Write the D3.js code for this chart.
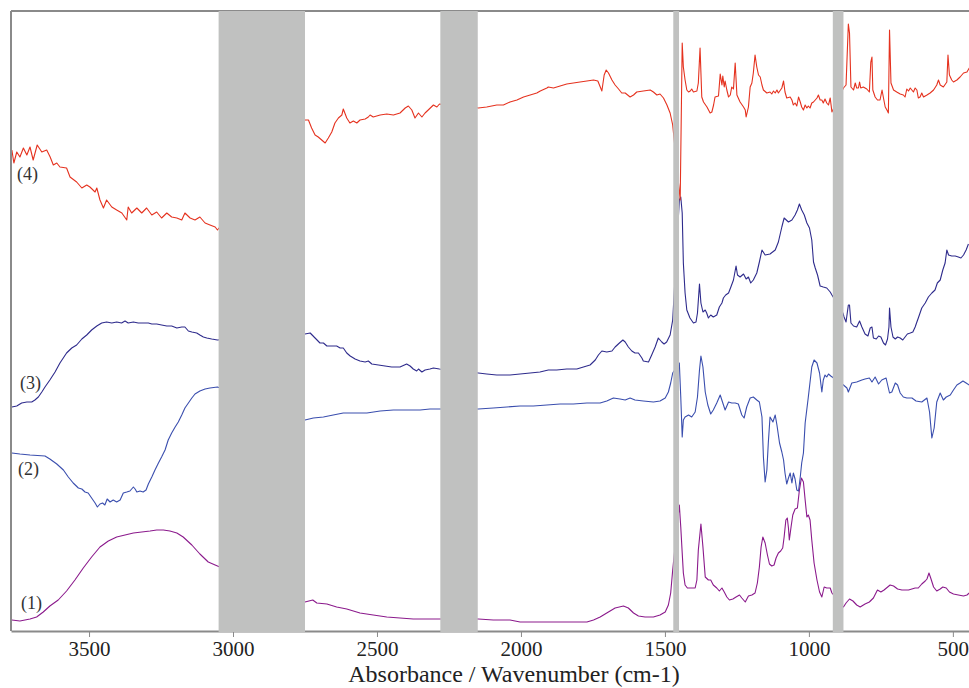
<!DOCTYPE html>
<html>
<head>
<meta charset="utf-8">
<script src="https://cdn.jsdelivr.net/npm/d3@7"></script>
<style>
  body { margin: 0; background: #fff; }
  svg { display: block; }
  svg text { font-family: "Liberation Serif", "Times New Roman", Times, "DejaVu Serif", serif; }
</style>
</head>
<body>
<div id="chart"></div>
<script>
// [wavenumber (cm-1), absorbance offset (a.u.)]
const spectrum1 = [
  [3768,11],[3740,10],[3705,12],[3682,14],[3659,19],[3636,25],[3607,31],[3578,40],[3549,51],[3520,63],
  [3491,74],[3462,84],[3433,90],[3404,94],[3375,96],[3346,98],[3317,99],[3288,100],[3265,101],[3242,101],
  [3219,100],[3195,98],[3173,94],[3143,86],[3115,77],[3086,69],[3054,65],
  [2750,29],[2723,31],[2709,28],[2674,27],[2640,24],[2605,22],[2559,18],[2513,16],[2466,14],[2420,13],
  [2374,12],[2327,12],[2283,12],
  [2148,12],[2096,11],[2038,11],[2003,9],[1934,9],[1876,9],[1806,9],[1771,9],[1748,11],[1725,14],
  [1702,18],[1673,23],[1644,25],[1627,23],[1609,18],[1592,15],[1569,14],[1540,14],[1517,16],[1499,19],
  [1488,26],[1480,38],[1473,61],
  [1450,126],[1445,104],[1440,78],[1436,58],[1430,46],[1422,43],[1407,43],[1395,43],[1389,51],[1384,81],
  [1375,107],[1368,84],[1360,54],[1349,51],[1341,51],[1332,46],[1320,43],[1311,40],[1302,43],[1294,39],
  [1285,34],[1276,31],[1264,32],[1253,34],[1241,36],[1233,33],[1221,29],[1210,35],[1198,36],[1187,38],
  [1179,48],[1172,64],[1166,84],[1160,94],[1152,88],[1144,76],[1137,67],[1129,65],[1121,66],[1114,73],
  [1106,78],[1098,80],[1091,83],[1086,94],[1080,111],[1075,113],[1071,103],[1068,91],[1062,104],[1056,116],
  [1048,122],[1040,123],[1033,141],[1026,153],[1019,149],[1013,131],[1007,114],[1002,116],[996,111],[990,91],
  [982,68],[972,51],[963,39],[955,34],[947,44],[938,43],[926,43],[920,38],
  [880,24],[871,28],[859,32],[847,30],[834,26],[822,24],[805,27],[790,29],[776,33],[762,41],
  [750,39],[739,41],[718,46],[706,45],[692,42],[677,41],[654,41],[631,43],[620,43],[608,47],
  [596,50],[590,52],[583,58],[577,53],[567,44],[556,40],[544,42],[535,44],[523,43],[512,39],
  [498,37],[481,36],[463,35],[451,36],[443,38]
];

const spectrum2 = [
  [3768,178],[3740,177],[3705,176],[3653,175],[3636,172],[3612,167],[3589,161],[3572,154],[3555,148],[3537,143],
  [3525,142],[3514,139],[3503,138],[3491,133],[3479,128],[3471,124],[3462,127],[3453,128],[3445,126],[3437,132],
  [3427,129],[3416,131],[3404,129],[3392,131],[3381,138],[3369,139],[3358,140],[3346,144],[3340,142],[3334,139],
  [3323,140],[3312,139],[3302,141],[3294,147],[3282,154],[3271,161],[3259,168],[3248,174],[3236,181],[3225,191],
  [3213,198],[3201,204],[3190,209],[3178,216],[3167,223],[3155,228],[3143,233],[3132,237],[3115,240],[3097,242],
  [3080,243],[3054,244],
  [2750,211],[2721,213],[2686,214],[2652,216],[2617,218],[2582,218],[2535,218],[2489,220],[2443,221],[2397,221],
  [2350,221],[2316,222],[2283,222],
  [2148,222],[2096,223],[2049,224],[2003,225],[1957,225],[1910,226],[1864,227],[1818,227],[1771,228],[1725,228],
  [1702,230],[1679,233],[1656,232],[1638,231],[1621,233],[1604,231],[1575,230],[1540,229],[1517,230],[1499,233],
  [1488,239],[1480,248],[1473,258],
  [1450,268],[1445,234],[1440,194],[1436,211],[1430,214],[1418,216],[1407,214],[1395,219],[1387,234],[1380,261],
  [1375,275],[1368,264],[1360,239],[1351,226],[1341,217],[1332,221],[1320,228],[1308,236],[1299,228],[1291,221],
  [1279,229],[1268,228],[1256,228],[1245,227],[1233,216],[1225,213],[1216,224],[1204,233],[1193,234],[1181,231],
  [1172,229],[1163,214],[1158,174],[1152,149],[1146,161],[1141,188],[1135,214],[1125,209],[1117,216],[1111,206],
  [1102,188],[1094,179],[1088,171],[1083,158],[1077,147],[1071,153],[1065,158],[1059,148],[1054,158],[1048,152],
  [1042,141],[1036,140],[1030,154],[1025,168],[1019,178],[1013,208],[1002,234],[990,264],[982,271],[972,268],
  [963,258],[955,239],[950,251],[944,256],[938,254],[932,257],[924,255],
  [880,246],[868,243],[863,239],[851,248],[834,249],[816,251],[805,252],[790,253],[781,249],[770,254],
  [758,247],[747,251],[732,253],[720,238],[712,239],[700,248],[692,246],[683,238],[672,234],[660,233],
  [642,233],[628,230],[608,229],[590,233],[581,219],[573,193],[565,203],[556,229],[544,238],[533,231],
  [523,234],[509,236],[498,241],[486,246],[475,248],[465,250],[454,248],[443,246]
];

const spectrum3 = [
  [3768,224],[3751,225],[3734,228],[3716,229],[3699,229],[3688,231],[3676,234],[3664,239],[3653,244],[3636,251],
  [3618,259],[3601,268],[3578,278],[3560,283],[3543,286],[3525,292],[3508,296],[3491,301],[3473,305],[3456,308],
  [3439,309],[3421,308],[3404,309],[3387,308],[3375,310],[3364,308],[3346,309],[3329,308],[3311,308],[3294,308],
  [3282,307],[3265,307],[3248,306],[3230,305],[3213,305],[3195,303],[3178,304],[3167,304],[3155,300],[3143,299],
  [3126,298],[3115,296],[3103,294],[3091,293],[3074,292],[3054,291],
  [2750,297],[2732,298],[2715,293],[2698,288],[2686,288],[2674,285],[2657,285],[2640,285],[2628,283],[2617,283],
  [2605,278],[2593,275],[2576,272],[2559,270],[2541,269],[2530,270],[2518,267],[2495,266],[2472,265],[2449,264],
  [2420,264],[2397,267],[2385,265],[2374,262],[2362,260],[2356,262],[2344,259],[2333,261],[2316,262],[2304,263],
  [2283,262],
  [2148,258],[2119,257],[2084,256],[2038,256],[2003,257],[1968,258],[1934,259],[1905,261],[1876,261],[1841,262],
  [1806,262],[1783,264],[1760,266],[1742,271],[1731,276],[1719,280],[1702,279],[1684,280],[1673,284],[1658,288],
  [1646,291],[1638,289],[1627,284],[1615,280],[1604,278],[1592,278],[1580,273],[1575,270],[1557,269],[1546,276],
  [1534,284],[1523,293],[1511,289],[1503,287],[1494,289],[1482,296],[1473,311],
  [1450,431],[1445,434],[1440,418],[1436,368],[1430,338],[1424,321],[1413,313],[1401,308],[1392,309],[1387,318],
  [1380,347],[1375,328],[1368,319],[1360,321],[1355,318],[1349,313],[1341,316],[1332,314],[1320,316],[1311,324],
  [1302,328],[1297,333],[1289,336],[1279,338],[1271,344],[1262,351],[1253,365],[1248,356],[1239,354],[1227,357],
  [1218,352],[1210,354],[1202,348],[1193,351],[1181,358],[1172,369],[1163,381],[1152,376],[1135,377],[1117,381],
  [1106,389],[1094,404],[1086,413],[1071,409],[1059,411],[1048,416],[1040,421],[1033,427],[1025,421],[1016,416],
  [1007,408],[998,403],[990,391],[984,369],[978,363],[970,356],[961,345],[950,344],[938,343],[926,339],
  [920,336],
  [882,318],[878,314],[871,309],[863,326],[859,326],[854,308],[845,305],[834,304],[824,310],[816,304],
  [805,297],[795,295],[787,303],[781,304],[776,293],[766,292],[758,295],[750,294],[741,288],[734,286],
  [727,292],[722,304],[720,323],[715,304],[708,294],[700,292],[692,294],[683,293],[674,291],[666,294],
  [658,297],[648,298],[639,299],[631,304],[625,309],[620,313],[614,318],[608,323],[596,328],[585,334],
  [573,338],[562,341],[554,348],[544,351],[535,361],[527,368],[521,381],[515,376],[504,375],[492,375],
  [481,374],[472,373],[463,376],[454,381],[446,387]
];

const spectrum4 = [
  [3768,481],[3761,468],[3751,479],[3740,474],[3728,483],[3716,476],[3705,484],[3694,471],[3680,486],[3664,479],
  [3647,481],[3635,474],[3624,466],[3612,468],[3601,464],[3578,463],[3566,454],[3543,449],[3525,443],[3508,446],
  [3497,444],[3479,439],[3473,443],[3462,431],[3450,423],[3439,431],[3421,424],[3404,421],[3386,418],[3369,411],
  [3364,424],[3352,418],[3334,423],[3317,418],[3300,423],[3282,416],[3265,419],[3248,413],[3230,418],[3213,414],
  [3195,413],[3178,411],[3167,418],[3149,413],[3132,411],[3115,414],[3097,408],[3080,406],[3062,404],[3054,401],
  [2750,511],[2738,511],[2727,503],[2715,496],[2704,494],[2692,491],[2680,488],[2669,493],[2657,499],[2646,508],
  [2634,513],[2622,516],[2617,522],[2605,513],[2594,508],[2582,510],[2570,508],[2559,511],[2541,512],[2530,514],
  [2524,516],[2513,514],[2489,516],[2466,517],[2443,516],[2420,518],[2402,523],[2391,525],[2379,521],[2368,513],
  [2356,518],[2344,514],[2333,518],[2322,521],[2304,526],[2292,524],[2283,527],
  [2148,523],[2119,524],[2084,526],[2061,526],[2038,529],[2014,531],[1991,534],[1968,536],[1945,538],[1933,540],
  [1910,543],[1905,544],[1887,543],[1864,545],[1841,547],[1818,548],[1795,549],[1771,550],[1748,551],[1733,550],
  [1719,540],[1711,556],[1704,561],[1696,558],[1684,551],[1673,546],[1661,542],[1650,538],[1638,538],[1621,534],
  [1609,536],[1598,539],[1575,540],[1551,541],[1540,539],[1528,536],[1517,537],[1505,533],[1493,526],[1482,518],
  [1473,506],
  [1447,431],[1440,588],[1436,564],[1430,551],[1424,541],[1418,539],[1412,540],[1407,542],[1401,539],[1389,540],
  [1384,548],[1378,583],[1372,534],[1366,529],[1354,524],[1343,518],[1337,519],[1331,526],[1326,534],[1314,535],
  [1308,557],[1302,546],[1299,555],[1294,544],[1291,550],[1285,541],[1279,534],[1273,536],[1268,544],[1262,542],
  [1256,568],[1250,536],[1239,529],[1227,524],[1221,521],[1218,514],[1210,524],[1204,544],[1198,548],[1193,558],
  [1187,576],[1181,564],[1175,556],[1169,554],[1163,546],[1158,541],[1146,538],[1135,539],[1129,537],[1123,540],
  [1117,538],[1111,541],[1106,538],[1094,543],[1088,550],[1083,539],[1077,533],[1065,534],[1059,531],[1054,526],
  [1048,528],[1042,525],[1036,534],[1030,529],[1025,524],[1019,521],[1013,526],[1007,523],[1002,525],[996,523],
  [990,528],[984,529],[978,531],[972,533],[967,536],[961,531],[955,531],[950,528],[944,532],[938,528],
  [932,526],[926,533],[920,519],
  [880,543],[871,546],[863,607],[859,598],[854,544],[851,543],[845,541],[839,548],[834,543],[828,543],
  [824,549],[820,543],[811,544],[799,542],[790,539],[785,569],[781,574],[778,541],[770,534],[762,531],
  [753,531],[746,541],[741,533],[735,524],[729,521],[724,518],[720,601],[715,548],[706,541],[695,539],
  [683,537],[672,536],[666,534],[660,542],[654,540],[648,543],[637,539],[631,543],[625,541],[620,533],
  [614,534],[608,538],[602,534],[590,536],[579,538],[567,541],[556,546],[550,551],[544,546],[533,544],
  [521,549],[517,576],[512,556],[504,551],[498,549],[486,551],[475,554],[463,558],[451,559],[443,563]
];

const series = [
  {name: "(1)", data: spectrum1, color: "#8b1a8c", labelW: 3736, labelV: 22},
  {name: "(2)", data: spectrum2, color: "#3a4eae", labelW: 3747, labelV: 156},
  {name: "(3)", data: spectrum3, color: "#2e2b8c", labelW: 3740, labelV: 242},
  {name: "(4)", data: spectrum4, color: "#e5321f", labelW: 3750, labelV: 451}
];

// grey masked regions [from, to] in cm-1
const maskedBands = [[3050, 2750], [2280, 2150], [1471, 1451], [917, 880]];
const xTicks = [3500, 3000, 2500, 2000, 1500, 1000, 500];
const xTitle = "Absorbance / Wavenumber (cm-1)";

const width = 969, height = 688;
const margin = {top: 11, right: 0, bottom: 57, left: 11};

const x = d3.scaleLinear([3771, 444], [margin.left, width - margin.right]);
const y = d3.scaleLinear([0, 620], [height - margin.bottom, margin.top]);

const svg = d3.select("#chart").append("svg").attr("width", width).attr("height", height);

svg.append("clipPath").attr("id", "plot-clip")
  .append("rect")
  .attr("x", margin.left).attr("y", margin.top)
  .attr("width", width - margin.left - margin.right)
  .attr("height", height - margin.top - margin.bottom);

const line = d3.line().x((d) => x(d[0])).y((d) => y(d[1]));

const plot = svg.append("g").attr("clip-path", "url(#plot-clip)");
plot.selectAll("path.spectrum")
  .data(series)
  .join("path")
  .attr("class", "spectrum")
  .attr("fill", "none")
  .attr("stroke", (d) => d.color)
  .attr("stroke-width", 1.1)
  .attr("stroke-linejoin", "round")
  .attr("d", (d) => line(d.data));

// frame
const frame = svg.append("g").attr("stroke", "#8a8a8a").attr("stroke-width", 2);
frame.append("line").attr("x1", margin.left).attr("x2", width).attr("y1", margin.top).attr("y2", margin.top);
frame.append("line").attr("x1", margin.left).attr("x2", margin.left).attr("y1", margin.top).attr("y2", y(0));

const xAxis = svg.append("g")
  .attr("transform", `translate(0,${y(0)})`)
  .call(d3.axisBottom(x).tickValues(xTicks).tickSize(6).tickSizeOuter(0).tickPadding(4).tickFormat(d3.format("d")));
xAxis.attr("font-family", null).attr("font-size", null);
xAxis.select(".domain").attr("stroke", "#8a8a8a").attr("stroke-width", 2);
xAxis.selectAll(".tick line").attr("stroke", "#8a8a8a").attr("stroke-width", 1);
xAxis.selectAll(".tick text")
  .attr("fill", "#222")
  .attr("font-size", 21);

// masked regions on top
svg.append("g").selectAll("rect")
  .data(maskedBands)
  .join("rect")
  .attr("x", (d) => x(d[0]))
  .attr("width", (d) => x(d[1]) - x(d[0]))
  .attr("y", margin.top)
  .attr("height", y(0) - margin.top + 1)
  .attr("fill", "#c0c1c0");

// series labels
svg.append("g").selectAll("text")
  .data(series)
  .join("text")
  .attr("x", (d) => x(d.labelW))
  .attr("y", (d) => y(d.labelV))
  .attr("fill", "#333")
  .attr("font-size", 18)
  .text((d) => d.name);

svg.append("text")
  .attr("x", 514)
  .attr("y", 682)
  .attr("text-anchor", "middle")
  .attr("fill", "#222")
  .attr("font-size", 24)
  .text(xTitle);
</script>
</body>
</html>
